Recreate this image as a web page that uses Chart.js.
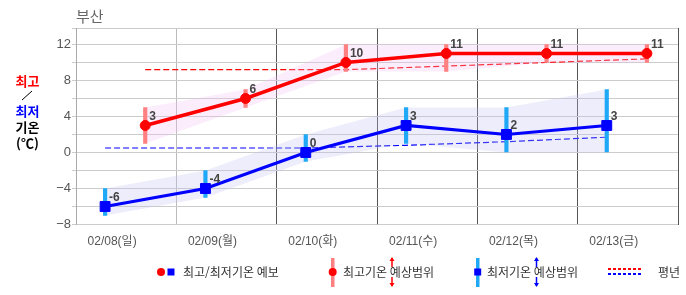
<!DOCTYPE html>
<html lang="ko">
<head>
<meta charset="utf-8">
<script src="https://cdn.jsdelivr.net/npm/chart.js@4"></script>
<style>
  html, body { margin: 0; padding: 0; background: #fff; }
</style>
</head>
<body>
<canvas id="tempChart" width="686" height="295"></canvas>
<script>
const dayLabels = ["02/08(일)", "02/09(월)", "02/10(화)", "02/11(수)", "02/12(목)", "02/13(금)"];
const maxTemps = [3, 6, 10, 11, 11, 11];
const minTemps = [-6, -4, 0, 3, 2, 3];
const maxRangeLow = [1, 5, 9, 9, 10, 10];
const maxRangeHigh = [5, 7, 12, 12, 12, 12];
const minRangeLow = [-7, -5, -1, 1, 0, 0];
const minRangeHigh = [-4, -2, 2, 5, 5, 7];
const maxNormal = [9.2, 9.2, 9.2, 9.6, 10.0, 10.4];
const minNormal = [0.5, 0.5, 0.5, 0.8, 1.2, 1.7];
const yTickValues = [-8, -6, -4, -2, 0, 2, 4, 6, 8, 10, 12];

// 하루 안에서의 위치 (최저: 아침, 최고: 오후)
const MIN_AT = 0.29;
const MAX_AT = 0.69;
const LABEL_AT = 0.36;
const Y_MIN = -8;
const Y_MAX = 13.83;

const FONT = "'Liberation Sans', 'Noto Sans CJK KR', sans-serif";
const KFONT = "'Noto Sans CJK KR', sans-serif";

const pts = (vals, off) => vals.map((v, i) => ({ x: i + off, y: v }));
const rng = (lo, hi, off) => lo.map((v, i) => ({ x: i + off, y: [v, hi[i]] }));

// ===== 데이터 라벨 =====
const valueLabels = {
  id: "valueLabels",
  afterDatasetsDraw(chart) {
    const ctx = chart.ctx;
    ctx.save();
    ctx.font = "bold 12px " + FONT;
    ctx.fillStyle = "#444";
    ctx.textAlign = "left";
    ctx.textBaseline = "alphabetic";
    [0, 1].forEach((di) => {
      const meta = chart.getDatasetMeta(di);
      const vals = chart.data.datasets[di].data;
      meta.data.forEach((p, i) => {
        ctx.fillText(String(vals[i].y), p.x + 4, p.y - 5);
      });
    });
    ctx.restore();
  },
};

// ===== 제목, 축 제목, 범례 =====
function arrow(ctx, x, y1, y2, up) {
  ctx.beginPath();
  ctx.moveTo(x, y1);
  ctx.lineTo(x, y2);
  ctx.stroke();
  const tip = up ? y1 - 1 : y2 + 1;
  const d = up ? 4 : -4;
  ctx.beginPath();
  ctx.moveTo(x, tip);
  ctx.lineTo(x - 2.5, tip + d);
  ctx.lineTo(x + 2.5, tip + d);
  ctx.closePath();
  ctx.fill();
}

const decorations = {
  id: "decorations",
  afterDraw(chart) {
    const ctx = chart.ctx;
    ctx.save();

    // 지역명
    ctx.font = "15px " + KFONT;
    ctx.fillStyle = "#666";
    ctx.textBaseline = "middle";
    ctx.textAlign = "left";
    ctx.fillText("부산", 76, 16);

    // 왼쪽 축 제목
    ctx.font = "bold 13px " + KFONT;
    ctx.textAlign = "center";
    ctx.fillStyle = "#ff0000";
    ctx.fillText("최고", 27.5, 81);
    ctx.strokeStyle = "#000";
    ctx.lineWidth = 1;
    ctx.beginPath();
    ctx.moveTo(22, 100);
    ctx.lineTo(32, 91);
    ctx.stroke();
    ctx.fillStyle = "#0000ff";
    ctx.fillText("최저", 27.5, 111);
    ctx.fillStyle = "#000";
    ctx.fillText("기온", 27.5, 127);
    ctx.fillText("(℃)", 27.5, 143);

    // 범례
    const ly = 272;
    ctx.font = "12px " + KFONT;
    ctx.textAlign = "left";

    ctx.fillStyle = "#ff0000";
    ctx.beginPath();
    ctx.arc(161, ly, 4, 0, Math.PI * 2);
    ctx.fill();
    ctx.fillStyle = "#0000ff";
    ctx.fillRect(167.5, ly - 3.5, 7, 7);
    ctx.fillStyle = "#333";
    ctx.fillText("최고/최저기온 예보", 183, ly);

    ctx.fillStyle = "#ff8080";
    ctx.fillRect(331, 258, 3.5, 29);
    ctx.fillStyle = "#ff0000";
    ctx.beginPath();
    ctx.arc(332.7, ly, 4, 0, Math.PI * 2);
    ctx.fill();
    ctx.fillStyle = "#333";
    ctx.fillText("최고기온 예상범위", 343, ly);
    ctx.strokeStyle = "#ff0000";
    ctx.fillStyle = "#ff0000";
    ctx.lineWidth = 1.5;
    arrow(ctx, 392, 258, 267, true);
    arrow(ctx, 392, 277, 286, false);

    ctx.fillStyle = "#1ea8f5";
    ctx.fillRect(476, 258, 3.5, 29);
    ctx.fillStyle = "#0000ff";
    ctx.fillRect(474.2, ly - 3.5, 7, 7);
    ctx.fillStyle = "#333";
    ctx.fillText("최저기온 예상범위", 487, ly);
    ctx.strokeStyle = "#0000ff";
    ctx.fillStyle = "#0000ff";
    arrow(ctx, 536.5, 258, 267, true);
    arrow(ctx, 536.5, 277, 286, false);

    ctx.lineWidth = 2;
    ctx.setLineDash([3, 2]);
    ctx.strokeStyle = "#ff0000";
    ctx.beginPath();
    ctx.moveTo(608, 269);
    ctx.lineTo(643, 269);
    ctx.stroke();
    ctx.strokeStyle = "#0000ff";
    ctx.beginPath();
    ctx.moveTo(608, 274);
    ctx.lineTo(643, 274);
    ctx.stroke();
    ctx.setLineDash([]);
    ctx.fillStyle = "#333";
    ctx.fillText("평년", 658, ly);

    ctx.restore();
  },
};

const ctx = document.getElementById("tempChart");

new Chart(ctx, {
  type: "line",
  data: {
    datasets: [
      {
        label: "최고기온",
        data: pts(maxTemps, MAX_AT),
        borderColor: "#ff0000",
        borderWidth: 3.5,
        pointStyle: "circle",
        pointRadius: 5,
        pointBorderWidth: 1,
        pointBackgroundColor: "#ff0000",
        pointBorderColor: "#ff0000",
        order: 0,
      },
      {
        label: "최저기온",
        data: pts(minTemps, MIN_AT),
        borderColor: "#0000ff",
        borderWidth: 3.2,
        pointStyle: "rect",
        pointRadius: 7,
        pointBorderWidth: 1,
        pointBackgroundColor: "#0000ff",
        pointBorderColor: "#0000ff",
        order: 0,
      },
      {
        type: "bar",
        label: "최고기온 예상범위",
        data: rng(maxRangeLow, maxRangeHigh, MAX_AT),
        backgroundColor: "#ff8080",
        barThickness: 3.5,
        grouped: false,
        order: 1,
      },
      {
        type: "bar",
        label: "최저기온 예상범위",
        data: rng(minRangeLow, minRangeHigh, MIN_AT),
        backgroundColor: "#1ea8f5",
        barThickness: 3.5,
        grouped: false,
        order: 1,
      },
      {
        label: "max band hi",
        data: pts(maxRangeHigh, MAX_AT),
        borderColor: "transparent",
        borderWidth: 0,
        pointRadius: 0,
        fill: "+1",
        backgroundColor: "rgba(240, 190, 240, 0.28)",
        order: 2,
      },
      {
        label: "max band lo",
        data: pts(maxRangeLow, MAX_AT),
        borderColor: "transparent",
        borderWidth: 0,
        pointRadius: 0,
        order: 2,
      },
      {
        label: "min band hi",
        data: pts(minRangeHigh, MIN_AT),
        borderColor: "transparent",
        borderWidth: 0,
        pointRadius: 0,
        fill: "+1",
        backgroundColor: "rgba(190, 190, 240, 0.28)",
        order: 2,
      },
      {
        label: "min band lo",
        data: pts(minRangeLow, MIN_AT),
        borderColor: "transparent",
        borderWidth: 0,
        pointRadius: 0,
        order: 2,
      },
      {
        label: "평년 최고",
        data: pts(maxNormal, MAX_AT),
        borderColor: "#ff0000",
        borderWidth: 1.2,
        borderDash: [6, 3],
        pointRadius: 0,
        order: 3,
      },
      {
        label: "평년 최저",
        data: pts(minNormal, MIN_AT),
        borderColor: "#0000ff",
        borderWidth: 1.2,
        borderDash: [6, 3],
        pointRadius: 0,
        order: 3,
      },
    ],
  },
  options: {
    responsive: false,
    animation: false,
    events: [],
    layout: { padding: { top: 28, left: 0, right: 4, bottom: 0 } },
    scales: {
      x: {
        type: "linear",
        position: "bottom",
        offset: false,
        min: 0,
        max: dayLabels.length,
        afterBuildTicks: (s) => {
          s.ticks = dayLabels.map((d, i) => ({ value: i })).concat([{ value: dayLabels.length }]);
        },
        afterFit: (s) => { s.height = 0; },
        ticks: { display: false },
        grid: {
          offset: false,
          drawTicks: false,
          color: (c) => (c.index <= 1 ? "#bbb" : "#555"),
        },
        border: { display: false },
      },
      xl: {
        type: "linear",
        position: "bottom",
        offset: false,
        min: 0,
        max: dayLabels.length,
        afterBuildTicks: (s) => {
          s.ticks = dayLabels.map((d, i) => ({ value: i + LABEL_AT }));
        },
        afterFit: (s) => { s.height = 70.5; },
        ticks: {
          padding: 2,
          color: "#555",
          font: { size: 12, family: FONT },
          maxRotation: 0,
          autoSkip: false,
          callback: (v, i) => dayLabels[i],
        },
        grid: { display: false, offset: false },
        border: { display: false },
      },
      y: {
        min: Y_MIN,
        max: Y_MAX,
        afterBuildTicks: (s) => {
          s.ticks = yTickValues.map((v) => ({ value: v })).concat([{ value: Y_MAX }]);
        },
        afterFit: (s) => { s.width = 76; },
        ticks: {
          padding: 1,
          color: "#555",
          font: { size: 13, family: FONT },
          autoSkip: false,
          callback: (v) => (Number.isInteger(v) && v % 4 === 0 ? String(v).replace("-", "\u2212") : ""),
        },
        grid: { color: "#ccc", tickLength: 4 },
        border: { color: "#aaa" },
      },
    },
    plugins: {
      legend: { display: false },
      tooltip: { enabled: false },
    },
  },
  plugins: [valueLabels, decorations],
});
</script>
</body>
</html>
